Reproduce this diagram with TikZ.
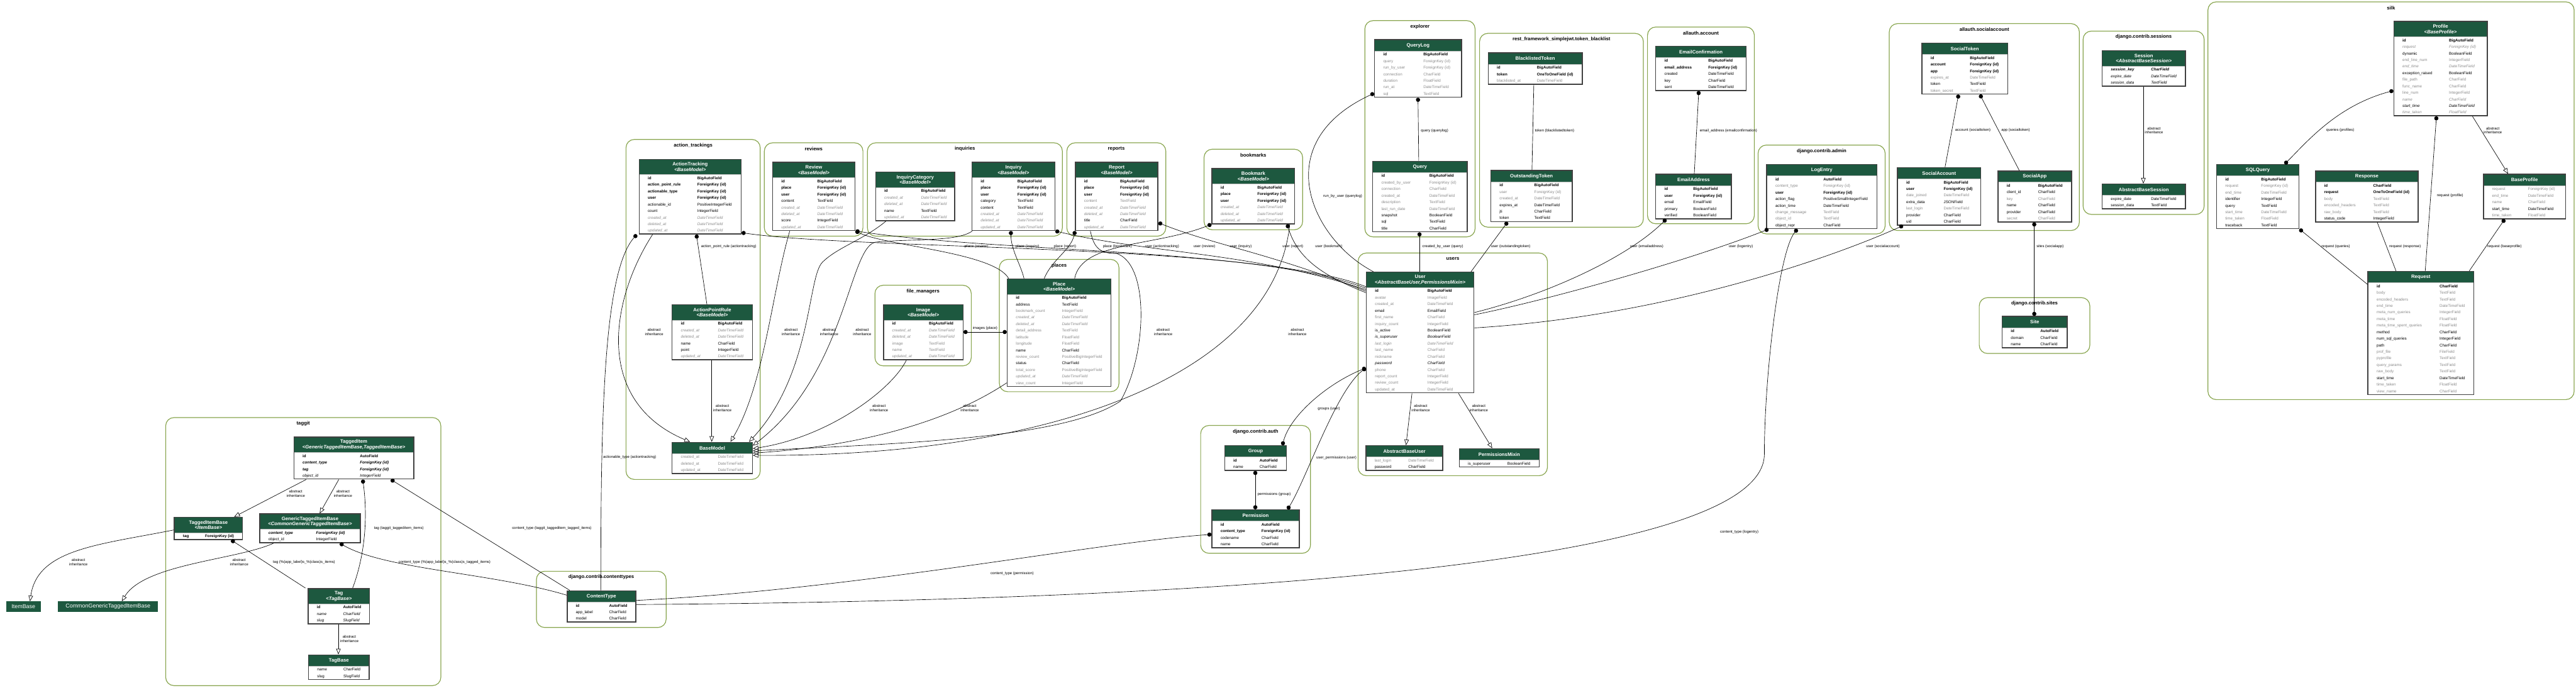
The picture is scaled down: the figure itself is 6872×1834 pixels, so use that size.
\documentclass[tikz,border=0pt]{standalone}
\usepackage{fontspec}
\setmainfont{Liberation Sans}
\usetikzlibrary{arrows.meta,calc,fit}

\definecolor{hdrgreen}{RGB}{29,88,63}
\definecolor{appgreen}{RGB}{136,165,78}
\definecolor{fldgray}{RGB}{140,140,140}
\definecolor{framegray}{RGB}{64,64,64}

\tikzset{
  appbox/.style={draw=appgreen, line width=2pt, rounded corners=22pt},
  apptitle/.style={font=\fontsize{13}{15}\selectfont\bfseries, inner sep=0pt},
  tblhead/.style={fill=hdrgreen, draw=black!25, line width=1.2pt, text=white,
    font=\fontsize{13}{14.5}\selectfont\bfseries,
    align=center, minimum height=30pt, inner sep=2pt, outer sep=0pt},
  tblframe/.style={draw=framegray, line width=2.5pt, inner sep=0pt},
  fld/.style={fld#1, inner sep=0pt},
  fldb/.style={font=\fontsize{10.5}{12}\selectfont\bfseries},
  fldn/.style={font=\fontsize{10.5}{12}\selectfont},
  fldg/.style={font=\fontsize{10.5}{12}\selectfont, text=fldgray},
  fldgi/.style={font=\fontsize{10.5}{12}\selectfont\itshape, text=fldgray},
  fldit/.style={font=\fontsize{10.5}{12}\selectfont\itshape},
  fldbi/.style={font=\fontsize{10.5}{12}\selectfont\bfseries\itshape},
  relline/.style={draw=black, line width=1.1pt},
  fkline/.style={relline, {Circle[length=11pt]}-},
  mmline/.style={relline, {Circle[length=11pt]}-{Circle[length=11pt]}},
  inherit/.style={relline, -{Triangle[open, length=15pt, width=12pt]}},
  elabel/.style={font=\fontsize{10}{11.5}\selectfont, align=center, inner sep=1pt},
}

% rows of a model table, below its header (#1-h)
\newcommand{\dbrows}[3]{%
  \foreach \fn/\ft/\fk [count=\i] in {#3} {
    \node[fld/.expand once=\fk, anchor=base west] (#1-f\i)
      at ($(#1-h.south west)+(23,{\i*17.5-4.5})$) {\fn};
    \node[fld/.expand once=\fk, anchor=base west] (#1-t\i)
      at ($(#1-h.south west)+(#2,{\i*17.5-4.5})$) {\ft};
    \coordinate (#1-b) at ($(#1-h.south east)+(0,{\i*17.5+1})$);
  }
  \node[tblframe, fit=(#1-h)(#1-b)] (#1) {};
}
% id, x, y, width, type column, title, rows
\newcommand{\dbtable}[7]{%
  \node[tblhead, minimum width=#4pt, anchor=north west] (#1-h) at (#2,#3) {#6};
  \dbrows{#1}{#5}{#7}}
% id, x, y, width, type column, title, base class, rows
\newcommand{\dbsub}[8]{%
  \node[tblhead, minimum width=#4pt, minimum height=41pt, anchor=north west] (#1-h)
    at (#2,#3) {#6\\\textit{<#7>}};
  \dbrows{#1}{#5}{#8}}
% id, x1, y1, x2, y2, title
\newcommand{\appgroup}[6]{%
  \draw[appbox] (#2,#3) rectangle (#4,#5);
  \node[apptitle] (#1) at ({(#2+#4)/2},{#3+16}) {#6};
}
\newcommand{\absinh}{abstract\\inheritance}

\begin{document}
\begin{tikzpicture}[x=1pt,y=-1pt]
\useasboundingbox (0,0) rectangle (6872,1834);

% apps
\appgroup{t-taggit}{442}{1114}{1176}{1829}{taggit}
\appgroup{t-contenttypes}{1431}{1524}{1777}{1674}{django.contrib.contenttypes}
\appgroup{t-actiontrackings}{1670}{372}{2028}{1279}{action\_trackings}
\appgroup{t-reviews}{2039}{381}{2302}{630}{reviews}
\appgroup{t-inquiries}{2314}{381}{2834}{630}{inquiries}
\appgroup{t-reports}{2846}{381}{3110}{630}{reports}
\appgroup{t-bookmarks}{3212}{398}{3475}{613}{bookmarks}
\appgroup{t-filemanagers}{2334}{761}{2591}{976}{file\_managers}
\appgroup{t-places}{2666}{692}{2985}{1045}{places}
\appgroup{t-explorer}{3641}{55}{3935}{632}{explorer}
\appgroup{t-blacklist}{3947}{89}{4384}{606}{rest\_framework\_simplejwt.token\_blacklist}
\appgroup{t-account}{4395}{72}{4680}{597}{allauth.account}
\appgroup{t-users}{3623}{675}{4128}{1269}{users}
\appgroup{t-auth}{3203}{1135}{3496}{1476}{django.contrib.auth}
\appgroup{t-admin}{4690}{387}{5029}{624}{django.contrib.admin}
\appgroup{t-socialaccount}{5040}{63}{5547}{615}{allauth.socialaccount}
\appgroup{t-sites}{5280}{794}{5575}{943}{django.contrib.sites}
\appgroup{t-sessions}{5557}{83}{5880}{572}{django.contrib.sessions}
\appgroup{t-silk}{5890}{5}{6867}{1066}{silk}

% taggit
\dbsub{taggeditem}{784}{1166}{320}{176}{TaggedItem}{GenericTaggedItemBase,TaggedItemBase}{id/AutoField/b, content\_type/ForeignKey (id)/bi, tag/ForeignKey (id)/bi, object\_id/IntegerField/it}
\dbsub{taggeditembase}{465}{1380}{182}{82}{TaggedItemBase}{ItemBase}{tag/ForeignKey (id)/b}
\dbsub{generictaggeditembase}{693}{1371}{268}{150}{GenericTaggedItemBase}{CommonGenericTaggedItemBase}{content\_type/ForeignKey (id)/bi, object\_id/IntegerField/n}
\dbsub{tag}{822}{1570}{164}{93}{Tag}{TagBase}{id/AutoField/b, name/CharField/it, slug/SlugField/it}
\dbtable{tagbase}{823}{1747}{162}{93}{TagBase}{name/CharField/n, slug/SlugField/n}
\node[tblhead, draw=none, font=\fontsize{15}{17}\selectfont, minimum width=93pt, minimum height=28pt, anchor=north west] (itembase) at (16,1604) {ItemBase};
\node[tblhead, draw=none, font=\fontsize{15}{17}\selectfont, minimum width=266pt, minimum height=28pt, anchor=north west] (commongeneric) at (155,1604) {CommonGenericTaggedItemBase};
\dbtable{contenttype}{1513}{1576}{183}{112}{ContentType}{id/AutoField/b, app\_label/CharField/n, model/CharField/n}

% action_trackings
\dbsub{actiontracking}{1705}{425}{272}{155}{ActionTracking}{BaseModel}{id/BigAutoField/b, action\_point\_rule/ForeignKey (id)/b, actionable\_type/ForeignKey (id)/b, user/ForeignKey (id)/b, actionable\_id/PositiveIntegerField/n, count/IntegerField/n, created\_at/DateTimeField/gi, deleted\_at/DateTimeField/gi, updated\_at/DateTimeField/gi}
\dbsub{actionpointrule}{1793}{813}{214}{122}{ActionPointRule}{BaseModel}{id/BigAutoField/b, created\_at/DateTimeField/gi, deleted\_at/DateTimeField/gi, name/CharField/n, point/IntegerField/n, updated\_at/DateTimeField/gi}
\dbtable{basemodel}{1793}{1180}{214}{122}{BaseModel}{created\_at/DateTimeField/g, deleted\_at/DateTimeField/g, updated\_at/DateTimeField/g}

% reviews, inquiries, reports, bookmarks
\dbsub{review}{2061}{433}{220}{119}{Review}{BaseModel}{id/BigAutoField/b, place/ForeignKey (id)/b, user/ForeignKey (id)/b, content/TextField/n, created\_at/DateTimeField/gi, deleted\_at/DateTimeField/gi, score/IntegerField/n, updated\_at/DateTimeField/gi}
\dbsub{inquirycategory}{2336}{459}{211}{121}{InquiryCategory}{BaseModel}{id/BigAutoField/b, created\_at/DateTimeField/gi, deleted\_at/DateTimeField/gi, name/TextField/n, updated\_at/DateTimeField/gi}
\dbsub{inquiry}{2593}{433}{221}{121}{Inquiry}{BaseModel}{id/BigAutoField/b, place/ForeignKey (id)/b, user/ForeignKey (id)/b, category/TextField/n, content/TextField/n, created\_at/DateTimeField/gi, deleted\_at/DateTimeField/gi, updated\_at/DateTimeField/gi}
\dbsub{report}{2869}{433}{220}{119}{Report}{BaseModel}{id/BigAutoField/b, place/ForeignKey (id)/b, user/ForeignKey (id)/b, content/TextField/g, created\_at/DateTimeField/gi, deleted\_at/DateTimeField/gi, title/CharField/n, updated\_at/DateTimeField/gi}
\dbsub{bookmark}{3233}{450}{221}{121}{Bookmark}{BaseModel}{id/BigAutoField/b, place/ForeignKey (id)/b, user/ForeignKey (id)/b, created\_at/DateTimeField/gi, deleted\_at/DateTimeField/gi, updated\_at/DateTimeField/gi}

% file_managers, places
\dbsub{image}{2357}{813}{212}{121}{Image}{BaseModel}{id/BigAutoField/b, created\_at/DateTimeField/gi, deleted\_at/DateTimeField/gi, image/TextField/g, name/TextField/g, updated\_at/DateTimeField/gi}
\dbsub{place}{2687}{744}{277}{146}{Place}{BaseModel}{id/BigAutoField/b, address/TextField/n, bookmark\_count/IntegerField/g, created\_at/DateTimeField/gi, deleted\_at/DateTimeField/gi, detail\_address/TextField/g, latitude/FloatField/g, longitude/FloatField/g, name/CharField/n, review\_count/PositiveBigIntegerField/g, status/CharField/n, total\_score/PositiveBigIntegerField/g, updated\_at/DateTimeField/gi, view\_count/IntegerField/g}

% explorer, token blacklist, allauth.account
\dbtable{querylog}{3667}{106}{232}{130}{QueryLog}{id/BigAutoField/b, query/ForeignKey (id)/g, run\_by\_user/ForeignKey (id)/g, connection/CharField/g, duration/FloatField/g, run\_at/DateTimeField/g, sql/TextField/g}
\dbtable{query}{3662}{430}{252}{151}{Query}{id/BigAutoField/b, created\_by\_user/ForeignKey (id)/g, connection/CharField/g, created\_at/DateTimeField/g, description/TextField/g, last\_run\_date/DateTimeField/g, snapshot/BooleanField/n, sql/TextField/n, title/CharField/n}
\dbtable{blacklistedtoken}{3970}{141}{251}{130}{BlacklistedToken}{id/BigAutoField/b, token/OneToOneField (id)/b, blacklisted\_at/DateTimeField/g}
\dbtable{outstandingtoken}{3977}{455}{217}{116}{OutstandingToken}{id/BigAutoField/b, user/ForeignKey (id)/g, created\_at/DateTimeField/g, expires\_at/DateTimeField/n, jti/CharField/n, token/TextField/n}
\dbtable{emailconfirmation}{4417}{123}{241}{140}{EmailConfirmation}{id/BigAutoField/b, email\_address/ForeignKey (id)/b, created/DateTimeField/n, key/CharField/n, sent/DateTimeField/n}
\dbtable{emailaddress}{4417}{465}{202}{100}{EmailAddress}{id/BigAutoField/b, user/ForeignKey (id)/b, email/EmailField/n, primary/BooleanField/n, verified/BooleanField/n}

% users, auth
\dbsub{user}{3645}{726}{287}{163}{User}{AbstractBaseUser,PermissionsMixin}{id/BigAutoField/b, avatar/ImageField/g, created\_at/DateTimeField/g, email/EmailField/n, first\_name/CharField/g, inquiry\_count/IntegerField/g, is\_active/BooleanField/n, is\_superuser/BooleanField/it, last\_login/DateTimeField/gi, last\_name/CharField/g, nickname/CharField/g, password/CharField/it, phone/CharField/g, report\_count/IntegerField/g, review\_count/IntegerField/g, updated\_at/DateTimeField/g}
\dbtable{abstractbaseuser}{3644}{1189}{205}{113}{AbstractBaseUser}{last\_login/DateTimeField/g, password/CharField/n}
\dbtable{permissionsmixin}{3893}{1197}{213}{128}{PermissionsMixin}{is\_superuser/BooleanField/n}
\dbtable{group}{3267}{1189}{165}{93}{Group}{id/AutoField/b, name/CharField/n}
\dbtable{permission}{3233}{1360}{233}{132}{Permission}{id/AutoField/b, content\_type/ForeignKey (id)/b, codename/CharField/n, name/CharField/n}

% admin, socialaccount, sites, sessions
\dbtable{logentry}{4713}{439}{294}{151}{LogEntry}{id/AutoField/b, content\_type/ForeignKey (id)/g, user/ForeignKey (id)/b, action\_flag/PositiveSmallIntegerField/n, action\_time/DateTimeField/n, change\_message/TextField/g, object\_id/TextField/g, object\_repr/CharField/n}
\dbtable{socialtoken}{5127}{115}{229}{128}{SocialToken}{id/BigAutoField/b, account/ForeignKey (id)/b, app/ForeignKey (id)/b, expires\_at/DateTimeField/g, token/TextField/n, token\_secret/TextField/g}
\dbtable{socialaccount}{5062}{447}{222}{123}{SocialAccount}{id/BigAutoField/b, user/ForeignKey (id)/b, date\_joined/DateTimeField/g, extra\_data/JSONField/n, last\_login/DateTimeField/g, provider/CharField/n, uid/CharField/n}
\dbtable{socialapp}{5330}{456}{196}{107}{SocialApp}{id/BigAutoField/b, client\_id/CharField/n, key/CharField/g, name/CharField/n, provider/CharField/n, secret/CharField/g}
\dbtable{site}{5341}{844}{174}{102}{Site}{id/AutoField/b, domain/CharField/n, name/CharField/n}
\dbsub{session}{5608}{135}{222}{130}{Session}{AbstractBaseSession}{session\_key/CharField/bi, expire\_date/DateTimeField/it, session\_data/TextField/it}
\dbtable{abstractbasesession}{5608}{491}{222}{130}{AbstractBaseSession}{expire\_date/DateTimeField/n, session\_data/TextField/n}

% silk
\dbsub{profile}{6386}{57}{249}{147}{Profile}{BaseProfile}{id/BigAutoField/b, request/ForeignKey (id)/gi, dynamic/BooleanField/n, end\_line\_num/IntegerField/g, end\_time/DateTimeField/gi, exception\_raised/BooleanField/n, file\_path/CharField/g, func\_name/CharField/g, line\_num/IntegerField/g, name/CharField/gi, start\_time/DateTimeField/it, time\_taken/FloatField/gi}
\dbtable{sqlquery}{5913}{439}{220}{119}{SQLQuery}{id/BigAutoField/b, request/ForeignKey (id)/g, end\_time/DateTimeField/g, identifier/IntegerField/n, query/TextField/n, start\_time/DateTimeField/g, time\_taken/FloatField/g, traceback/TextField/n}
\dbtable{response}{6177}{456}{274}{154}{Response}{id/CharField/b, request/OneToOneField (id)/b, body/TextField/g, encoded\_headers/TextField/g, raw\_body/TextField/g, status\_code/IntegerField/n}
\dbtable{baseprofile}{6625}{465}{219}{119}{BaseProfile}{request/ForeignKey (id)/g, end\_time/DateTimeField/g, name/CharField/g, start\_time/DateTimeField/n, time\_taken/FloatField/g}
\dbtable{request}{6317}{724}{282}{191}{Request}{id/CharField/b, body/TextField/g, encoded\_headers/TextField/g, end\_time/DateTimeField/g, meta\_num\_queries/IntegerField/g, meta\_time/FloatField/g, meta\_time\_spent\_queries/FloatField/g, method/CharField/n, num\_sql\_queries/IntegerField/n, path/CharField/n, prof\_file/FileField/g, pyprofile/TextField/g, query\_params/TextField/g, raw\_body/TextField/g, start\_time/DateTimeField/n, time\_taken/FloatField/g, view\_name/CharField/g}

% taggit relations
\draw[inherit] ([xshift=34pt]taggeditem.south west) -- ([xshift=161pt]taggeditembase.north west);
\draw[inherit] ([xshift=121pt]taggeditem.south west) -- ([xshift=161pt]generictaggeditembase.north west);
\draw[fkline] ([xshift=185pt]taggeditem.south west) .. controls +(15,110) and +(30,-80) .. ([xshift=120pt]tag.north west);
\draw[fkline] ([xshift=260pt]taggeditem.south west) -- ([xshift=8pt]contenttype.north west);
\draw[fkline] ([xshift=153pt]taggeditembase.south west) -- ([xshift=-6pt]tag.north west);
\draw[fkline] ([xshift=215pt]generictaggeditembase.south west) .. controls +(120,70) and +(-200,-60) .. ([yshift=-13pt]contenttype.north west);
\draw[inherit] ([xshift=38pt]generictaggeditembase.south west) .. controls +(-100,45) and +(60,-100) .. ([xshift=170pt]commongeneric.north west);
\draw[inherit] ([yshift=-35pt]taggeditembase.north west) .. controls +(-200,40) and +(20,-140) .. ([xshift=64pt]itembase.north west);
\draw[inherit] ([xshift=82pt]tag.south west) -- ([xshift=81pt]tagbase.north west);

% action_trackings relations
\draw[fkline] ([xshift=-5pt]actiontracking.south west) .. controls +(-90,100) and +(0,-450) .. ([xshift=91pt]contenttype.north west);
\draw[fkline] ([xshift=154pt]actiontracking.south west) -- ([xshift=94pt]actionpointrule.north west);
\draw[inherit] ([xshift=37pt]actiontracking.south west) .. controls +(-110,170) and +(-260,-110) .. ([xshift=49pt]basemodel.north west);
\draw[inherit] ([xshift=107pt]actionpointrule.south west) -- ([xshift=107pt]basemodel.north west);
\draw[fkline] ([yshift=5pt]actiontracking.south east) .. controls +(323,47) and +(-295,-116) .. ([yshift=-40pt]user.north west);

% reviews, inquiries, reports, bookmarks relations
\draw[inherit] ([xshift=47pt]review.south west) .. controls +(-48,166) and +(90,-153) .. ([xshift=157pt]basemodel.north west);
\draw[fkline] (review.south east) .. controls +(80,40) and +(-40,-70) .. ([xshift=5pt]place.north west);
\draw[fkline] (review.south east) .. controls +(400,60) and +(-300,-110) .. ([yshift=-44pt]user.north west);
\draw[inherit] ([xshift=29pt]inquirycategory.south west) .. controls +(-60,50) and +(40,-40) .. ++(-170,110)
  .. controls +(-40,40) and +(168,-180) .. ([xshift=-10pt]basemodel.north east);
\draw[inherit] ([xshift=2pt]inquiry.south west) .. controls +(-40,30) and +(90,-10) .. ++(-260,30)
  .. controls +(-70,20) and +(247,-190) .. ([yshift=-10pt]basemodel.north east);
\draw[fkline] ([xshift=105pt]inquiry.south west) .. controls +(0,50) and +(-10,-40) .. ([xshift=46pt]place.north west);
\draw[fkline] (inquiry.south east) .. controls +(250,60) and +(-300,-100) .. ([yshift=-48pt]user.north west);
\draw[inherit] ([xshift=41pt]report.south west) .. controls +(10,50) and +(-40,0) .. ++(70,60)
  .. controls +(90,30) and +(70,-120) .. ++(10,394)
  .. controls +(-150,100) and +(400,-20) .. ([yshift=-24pt]basemodel.north east);
\draw[fkline] (report.south west) .. controls +(-10,50) and +(20,-50) .. ([xshift=100pt]place.north west);
\draw[fkline] ([yshift=22pt]report.south east) .. controls +(150,60) and +(-250,-100) .. ([yshift=-52pt]user.north west);
\draw[inherit] ([xshift=209pt]bookmark.south west) .. controls +(-42,404) and +(793,4) .. ([yshift=-36pt]basemodel.north east);
\draw[fkline] (bookmark.south west) .. controls +(-150,60) and +(20,-100) .. ([xshift=181pt]place.north west);
\draw[fkline] ([xshift=202pt]bookmark.south west) .. controls +(30,100) and +(-100,-40) .. ([yshift=-56pt]user.north west);

% file_managers, places relations
\draw[mmline] ([yshift=-74pt]image.north east) -- ([yshift=-143pt]place.north west);
\draw[inherit] ([xshift=62pt]image.south west) .. controls +(-40,80) and +(200,-30) .. ([yshift=-18pt]basemodel.north east);
\draw[inherit] ([yshift=11pt]place.south west) .. controls +(-150,100) and +(300,-20) .. ([yshift=-30pt]basemodel.north east);

% explorer, blacklist, account relations
\draw[fkline] ([xshift=117pt]querylog.south west) -- ([xshift=124pt]query.north west);
\draw[fkline] ([yshift=12pt]querylog.south west) .. controls +(-287,133) and +(-165,-86) .. ([xshift=20pt]user.north west);
\draw[fkline] ([xshift=126pt]query.south west) -- ([xshift=143pt]user.north west);
\draw[relline] ([xshift=123pt]blacklistedtoken.south west) -- ([xshift=111pt]outstandingtoken.north west);
\draw[fkline] ([xshift=46pt]outstandingtoken.south west) -- ([xshift=-9pt]user.north east);
\draw[fkline] ([xshift=116pt]emailconfirmation.south west) -- ([xshift=104pt]emailaddress.north west);
\draw[fkline] ([xshift=29pt]emailaddress.south west) .. controls +(-100,100) and +(200,-50) .. ([yshift=-109pt]user.north east);

% users, auth relations
\draw[inherit] ([xshift=123pt]user.south west) -- ([xshift=108pt]abstractbaseuser.north west);
\draw[inherit] ([xshift=247pt]user.south west) -- ([xshift=89pt]permissionsmixin.north west);
\draw[mmline] ([xshift=83pt]group.south west) -- ([xshift=117pt]permission.north west);
\draw[mmline] ([xshift=203pt]permission.north west) .. controls +(50,-80) and +(-80,60) .. ([yshift=-257pt]user.north west);
\draw[mmline] ([xshift=-12pt]group.north east) .. controls +(20,-80) and +(-100,40) .. ([yshift=-257pt]user.north west);
\draw[fkline] ([yshift=-67pt]permission.north west) .. controls +(-300,20) and +(600,-30) .. ([yshift=-27pt]contenttype.north east);

% admin, socialaccount, sessions relations
\draw[fkline] ([xshift=6pt]logentry.south west) .. controls +(-200,80) and +(200,-40) .. ([yshift=-115pt]user.north east);
\draw[fkline] ([xshift=83pt]logentry.south west) .. controls +(-50,60) and +(0,-200) .. ++(-88,600)
  .. controls +(0,300) and +(1500,-10) .. ([yshift=-38pt]contenttype.north east);
\draw[fkline] ([xshift=99pt]socialtoken.south west) -- ([xshift=128pt]socialaccount.north west);
\draw[fkline] ([xshift=156pt]socialtoken.south west) -- ([xshift=58pt]socialapp.north west);
\draw[fkline] ([xshift=16pt]socialaccount.south west) .. controls +(-200,90) and +(500,-30) .. ([yshift=-150pt]user.north east);
\draw[mmline] ([xshift=98pt]socialapp.south west) -- ([xshift=87pt]site.north west);
\draw[inherit] ([xshift=111pt]session.south west) -- ([xshift=111pt]abstractbasesession.north west);

% silk relations
\draw[mmline] ([yshift=-186pt]profile.north west) .. controls +(-150,40) and +(60,-60) .. ([xshift=183pt]sqlquery.north west);
\draw[fkline] ([xshift=115pt]profile.south west) -- ([xshift=154pt]request.north west);
\draw[inherit] ([xshift=211pt]profile.south west) -- ([xshift=67pt]baseprofile.north west);
\draw[fkline] (sqlquery.south east) -- ([yshift=-36pt]request.north west);
\draw[relline] ([xshift=166pt]response.south west) -- ([xshift=76pt]request.north west);
\draw[fkline] ([xshift=58pt]baseprofile.south west) -- ([xshift=-13pt]request.north east);

% relation labels
\node[elabel] (l-ai1) at (789,1317) {\absinh};
\node[elabel] (l-ai2) at (915,1317) {\absinh};
\node[elabel] (l-ai3) at (638,1500) {\absinh};
\node[elabel] (l-ai4) at (209,1500) {\absinh};
\node[elabel] (l-ai5) at (932,1705) {\absinh};
\node[elabel] (l-tagitems) at (1064,1410) {tag (taggit\_taggeditem\_items)};
\node[elabel] (l-cttagged) at (1472,1410) {content\_type (taggit\_taggeditem\_tagged\_items)};
\node[elabel] (l-tagcls) at (811,1500) {tag (\%(app\_label)s\_\%(class)s\_items)};
\node[elabel] (l-ctcls) at (1186,1500) {content\_type (\%(app\_label)s\_\%(class)s\_tagged\_items)};
\node[elabel, anchor=west] (l-actype) at (1608,1220) {actionable\_type (actiontracking)};
\node[elabel] (l-apr) at (1944,657) {action\_point\_rule (actiontracking)};
\node[elabel] (l-ai6) at (1745,886) {\absinh};
\node[elabel] (l-ai7) at (1927,1089) {\absinh};
\node[elabel] (l-ai8) at (2110,885) {\absinh};
\node[elabel] (l-ai9) at (2212,885) {\absinh};
\node[elabel] (l-ai10) at (2300,885) {\absinh};
\node[elabel] (l-ai11) at (3103,885) {\absinh};
\node[elabel] (l-ai12) at (3461,885) {\absinh};
\node[elabel] (l-ai13) at (2345,1089) {\absinh};
\node[elabel] (l-ai14) at (2587,1089) {\absinh};
\node[elabel] (l-plrev) at (2605,657) {place (review)};
\node[elabel] (l-plinq) at (2741,657) {place (inquiry)};
\node[elabel] (l-plrep) at (2841,657) {place (report)};
\node[elabel] (l-plbm) at (2981,657) {place (bookmark)};
\node[elabel] (l-usat) at (3100,657) {user (actiontracking)};
\node[elabel] (l-usrev) at (3213,657) {user (review)};
\node[elabel] (l-usinq) at (3310,657) {user (inquiry)};
\node[elabel] (l-usrep) at (3449,657) {user (report)};
\node[elabel] (l-usbm) at (3545,657) {user (bookmark)};
\node[elabel] (l-images) at (2628,875) {images (place)};
\node[elabel] (l-runby) at (3582,523) {run\_by\_user (querylog)};
\node[elabel] (l-query) at (3827,349) {query (querylog)};
\node[elabel] (l-token) at (4147,349) {token (blacklistedtoken)};
\node[elabel] (l-email) at (4611,349) {email\_address (emailconfirmation)};
\node[elabel] (l-createdby) at (3849,658) {created\_by\_user (query)};
\node[elabel] (l-usot) at (4030,658) {user (outstandingtoken)};
\node[elabel] (l-usea) at (4393,658) {user (emailaddress)};
\node[elabel] (l-usle) at (4644,658) {user (logentry)};
\node[elabel] (l-ussa) at (5023,657) {user (socialaccount)};
\node[elabel] (l-ai15) at (3790,1089) {\absinh};
\node[elabel] (l-ai16) at (3945,1089) {\absinh};
\node[elabel] (l-perms) at (3399,1318) {permissions (group)};
\node[elabel, anchor=east] (l-userperms) at (3620,1221) {user\_permissions (user)};
\node[elabel] (l-groups) at (3545,1090) {groups (user)};
\node[elabel] (l-ctperm) at (2700,1530) {content\_type (permission)};
\node[elabel] (l-ctlog) at (4640,1420) {content\_type (logentry)};
\node[elabel] (l-account) at (5263,348) {account (socialtoken)};
\node[elabel] (l-app) at (5377,348) {app (socialtoken)};
\node[elabel] (l-sites) at (5469,657) {sites (socialapp)};
\node[elabel] (l-ai17) at (5746,348) {\absinh};
\node[elabel] (l-queries) at (6243,348) {queries (profiles)};
\node[elabel] (l-reqprof) at (6536,522) {request (profile)};
\node[elabel] (l-ai18) at (6650,348) {\absinh};
\node[elabel] (l-reqq) at (6231,657) {request (queries)};
\node[elabel] (l-reqresp) at (6416,657) {request (response)};
\node[elabel] (l-reqbp) at (6681,657) {request (baseprofile)};
\end{tikzpicture}
\end{document}
